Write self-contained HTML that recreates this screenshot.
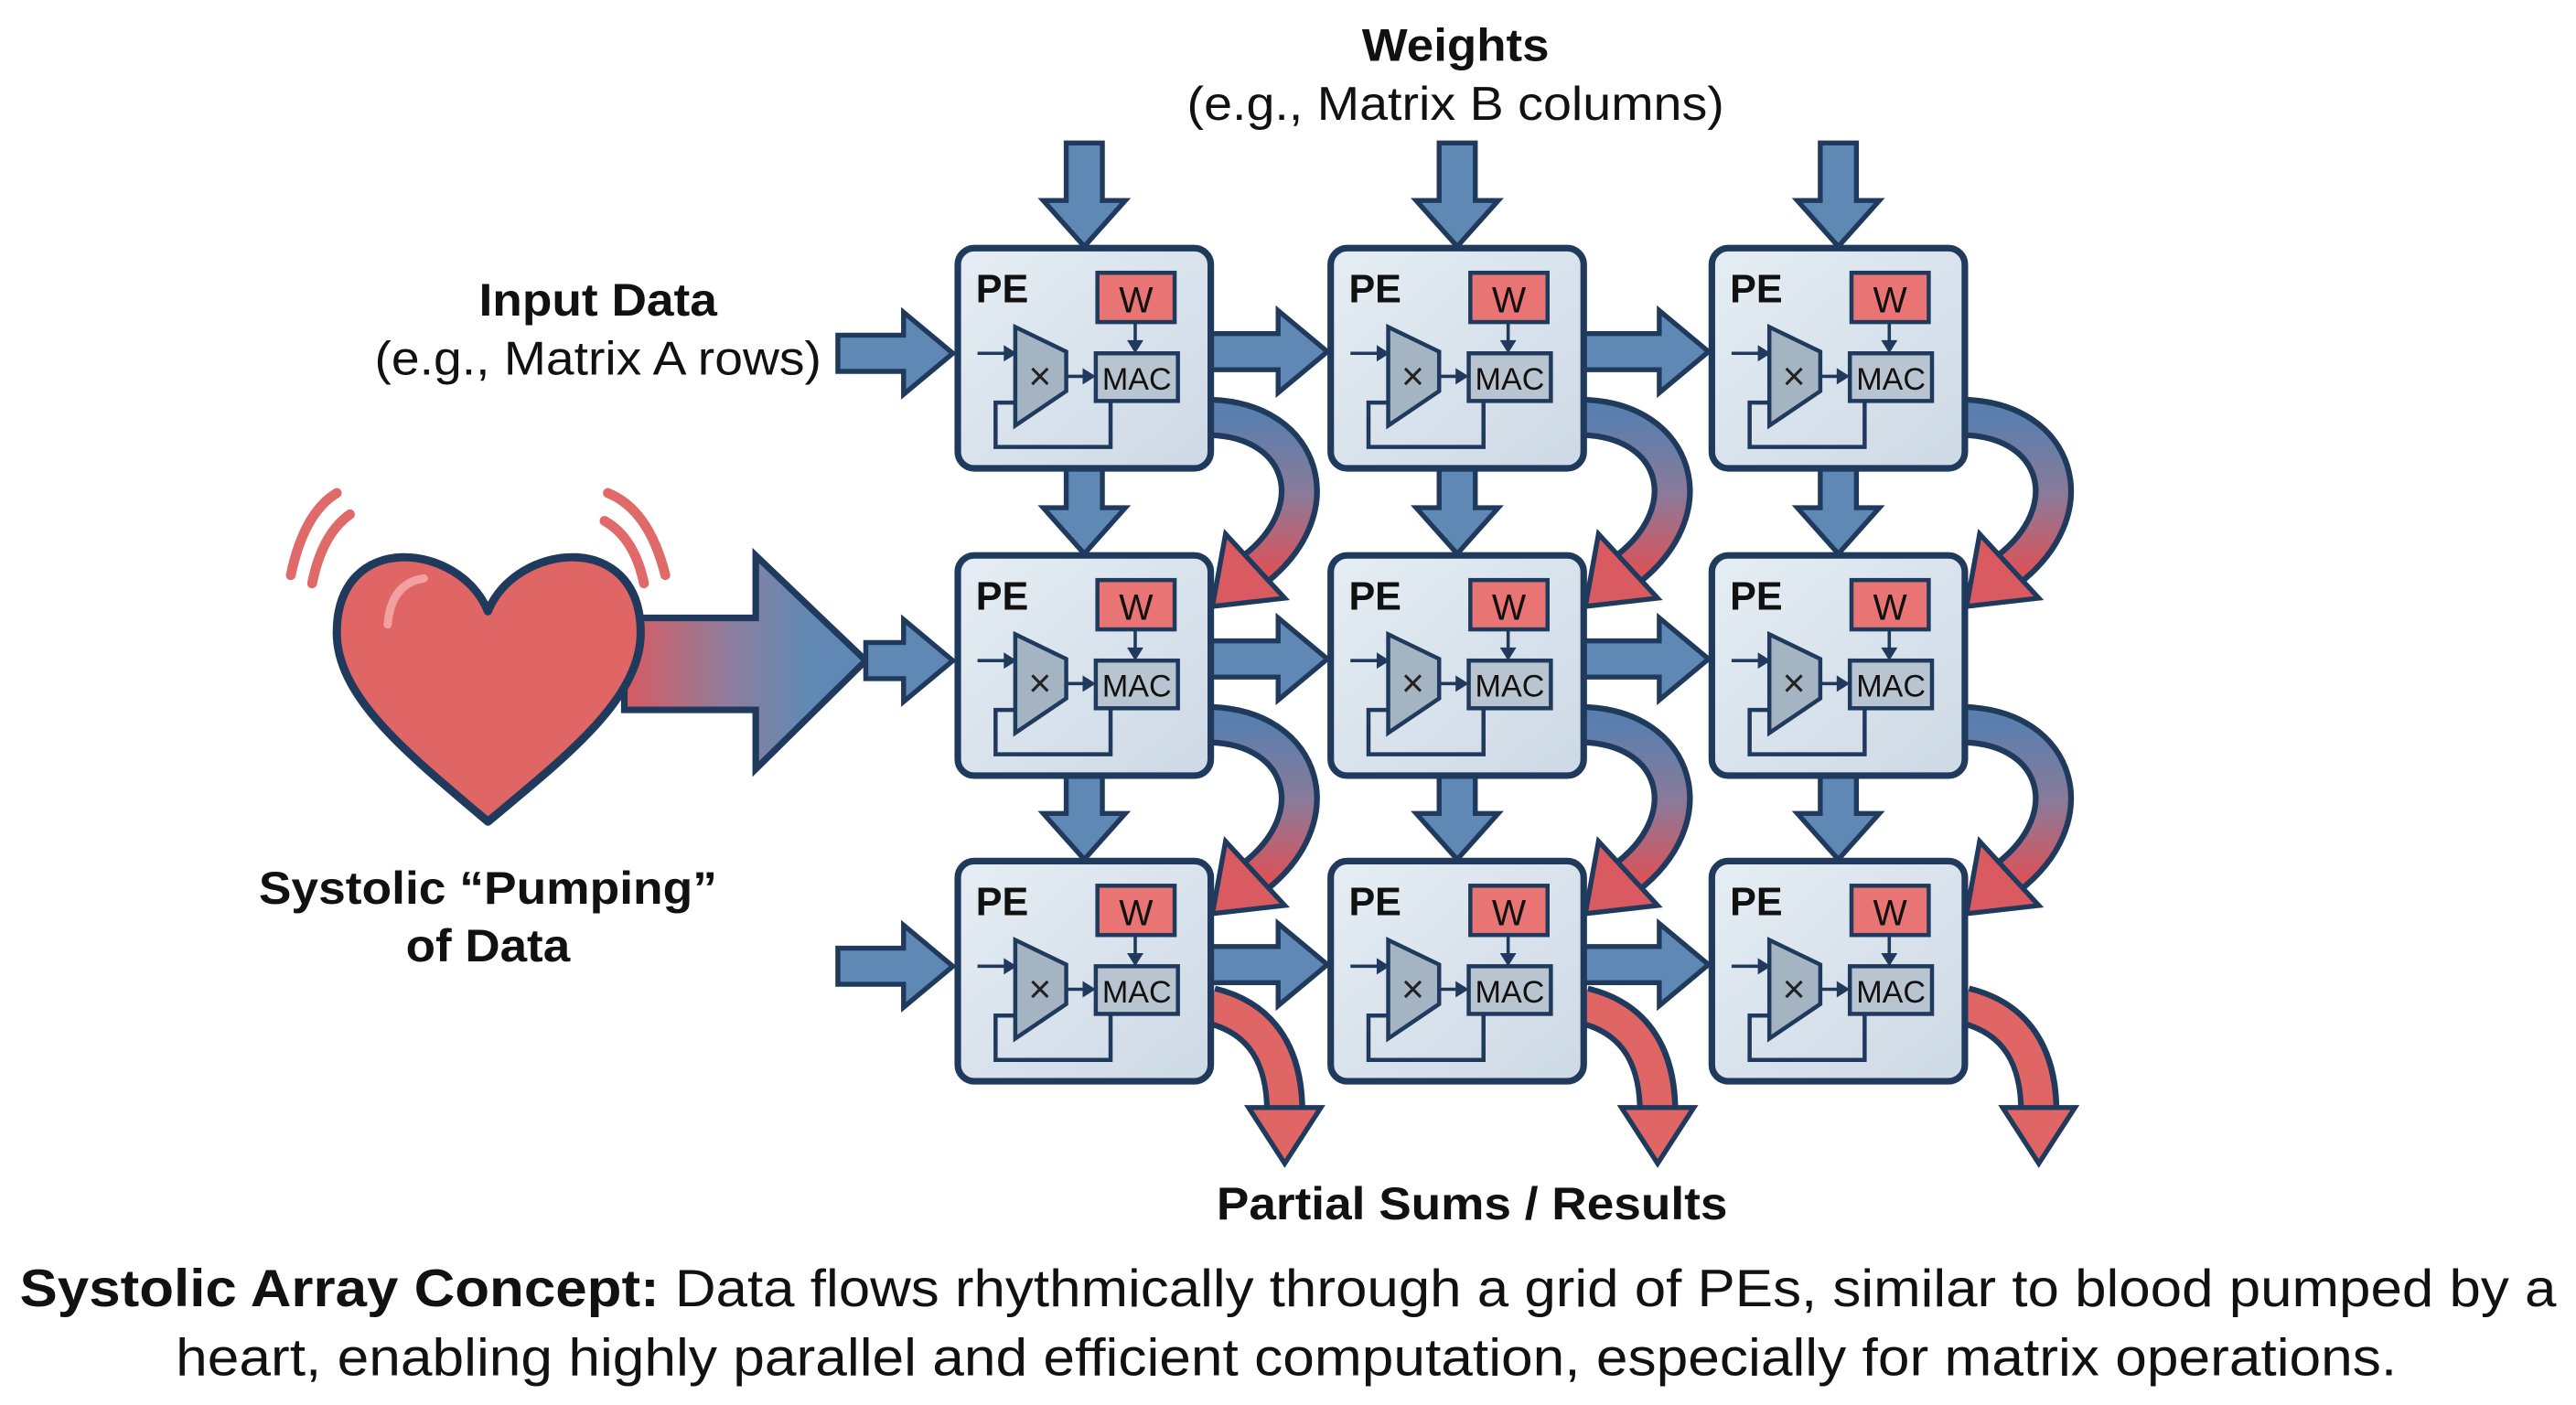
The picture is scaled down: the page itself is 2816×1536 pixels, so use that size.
<!DOCTYPE html>
<html><head><meta charset="utf-8"><style>
html,body{margin:0;padding:0;background:#fff;}
svg{display:block;}
text{font-family:"Liberation Sans",Arial,sans-serif;}
</style></head><body>
<svg id="s" width="2816" height="1536" viewBox="0 0 1568 855" preserveAspectRatio="none" xmlns="http://www.w3.org/2000/svg">
<defs>
<linearGradient id="gv" x1="0" y1="0" x2="0" y2="1">
<stop offset="0" stop-color="#5a7fae"/><stop offset="0.5" stop-color="#8a7a9a"/><stop offset="1" stop-color="#d9545a"/>
</linearGradient>
<linearGradient id="gh" x1="0" y1="0" x2="1" y2="0">
<stop offset="0" stop-color="#d95a60"/><stop offset="0.45" stop-color="#8c7f9f"/><stop offset="0.75" stop-color="#6288b4"/><stop offset="1" stop-color="#5f88b5"/>
</linearGradient>
<linearGradient id="pe" x1="0" y1="0" x2="1" y2="1">
<stop offset="0" stop-color="#e6edf4"/><stop offset="1" stop-color="#cdd9e5"/>
</linearGradient>
</defs>
<g id="g"></g>
<text x="886" y="37" font-size="28" font-weight="bold" text-anchor="middle" fill="#111" textLength="114" lengthAdjust="spacingAndGlyphs">Weights</text>
<text x="886" y="73" font-size="29" text-anchor="middle" fill="#111" textLength="327" lengthAdjust="spacingAndGlyphs">(e.g., Matrix B columns)</text>
<text x="364" y="192" font-size="28" font-weight="bold" text-anchor="middle" fill="#111" textLength="145" lengthAdjust="spacingAndGlyphs">Input Data</text>
<text x="364" y="228" font-size="29" text-anchor="middle" fill="#111" textLength="272" lengthAdjust="spacingAndGlyphs">(e.g., Matrix A rows)</text>
<text x="297" y="550" font-size="28" font-weight="bold" text-anchor="middle" fill="#111" textLength="279" lengthAdjust="spacingAndGlyphs">Systolic “Pumping”</text>
<text x="297" y="585" font-size="28" font-weight="bold" text-anchor="middle" fill="#111" textLength="100" lengthAdjust="spacingAndGlyphs">of Data</text>
<text x="896" y="742" font-size="28" font-weight="bold" text-anchor="middle" fill="#111" textLength="311" lengthAdjust="spacingAndGlyphs">Partial Sums / Results</text>
<text x="784" y="795" font-size="32" text-anchor="middle" fill="#111" textLength="1544" lengthAdjust="spacingAndGlyphs"><tspan font-weight="bold">Systolic Array Concept:</tspan> Data flows rhythmically through a grid of PEs, similar to blood pumped by a</text>
<text x="783" y="837" font-size="32" text-anchor="middle" fill="#111" textLength="1352" lengthAdjust="spacingAndGlyphs">heart, enabling highly parallel and efficient computation, especially for matrix operations.</text>
</svg>
<script>
var h='';
var B='#5f88b5',S='#1f3a5c';
var cols=[583,810,1042],rows=[151,338,524],W=154,H=134;
function harrow(x1,x2,c){h+='<polygon points="'+x1+','+(c-11)+' '+(x2-30)+','+(c-11)+' '+(x2-30)+','+(c-25)+' '+x2+','+c+' '+(x2-30)+','+(c+25)+' '+(x2-30)+','+(c+11)+' '+x1+','+(c+11)+'" fill="'+B+'" stroke="'+S+'" stroke-width="3" stroke-linejoin="miter"/>';}
function varrow(cx,y1,y2){h+='<polygon points="'+(cx-11)+','+y1+' '+(cx+11)+','+y1+' '+(cx+11)+','+(y2-28)+' '+(cx+25)+','+(y2-28)+' '+cx+','+y2+' '+(cx-25)+','+(y2-28)+' '+(cx-11)+','+(y2-28)+'" fill="'+B+'" stroke="'+S+'" stroke-width="3"/>';}
h+='<g fill="none" stroke="#e06a6a" stroke-width="6" stroke-linecap="round">'+
'<path d="M205 300 Q185 312 177 350"/><path d="M213 313 Q196 325 190 355"/>'+
'<path d="M370 300 Q395 310 405 350"/><path d="M368 317 Q386 327 392 355"/></g>';
h+='<polygon points="380,376 460,376 460,338 527,402 460,468 460,432 380,432" fill="url(#gh)" stroke="'+S+'" stroke-width="4"/>';
h+='<path d="M297 372 C280 330 205 322 205 385 C205 425 250 460 297 500 C345 460 390 425 390 385 C390 322 314 330 297 372 Z" fill="#e06565" stroke="'+S+'" stroke-width="5" stroke-linejoin="round"/>';
h+='<path d="M236 380 Q238 355 258 352" fill="none" stroke="#f2a0a0" stroke-width="5" stroke-linecap="round"/>';
harrow(510,580,215);harrow(527,580,402);harrow(510,580,588);
cols.forEach(function(x){varrow(x+77,87,150);});
rows.forEach(function(y,r){
 cols.forEach(function(x,c){
  if(c<2)harrow(x+W,cols[c+1]-2,y+63);
  if(r<2)varrow(x+77,y+H,rows[r+1]-1);
  if(r<2){
   var y0=y;
   h+='<path d="M737 '+(y0+103)+' C795 '+(y0+105)+' 810 '+(y0+160)+' 763 '+(y0+196)+'" transform="translate('+(x-583)+',0)" fill="none" stroke="'+S+'" stroke-width="25"/>';
   h+='<path d="M737 '+(y0+103)+' C795 '+(y0+105)+' 810 '+(y0+160)+' 763 '+(y0+196)+'" transform="translate('+(x-583)+',0)" fill="none" stroke="url(#gv)" stroke-width="18"/>';
   h+='<polygon transform="translate('+(x-583)+',0)" points="738,'+(y0+218)+' 782,'+(y0+213)+' 746,'+(y0+174)+'" fill="#d95a60" stroke="'+S+'" stroke-width="3" stroke-linejoin="miter"/>';
  } else {
   var dx=x-583;
   h+='<path transform="translate('+dx+',0)" d="M737 612 C770 620 782 645 782 676" fill="none" stroke="'+S+'" stroke-width="25"/>';
   h+='<path transform="translate('+dx+',0)" d="M737 612 C770 620 782 645 782 678" fill="none" stroke="#e06565" stroke-width="18"/>';
   h+='<polygon transform="translate('+dx+',0)" points="760,674 804,674 782,708" fill="#e06565" stroke="'+S+'" stroke-width="3"/>';
  }
 });
});
rows.forEach(function(y){cols.forEach(function(x){
 h+='<g transform="translate('+x+','+y+')">'+
 '<rect x="0" y="0" width="'+W+'" height="'+H+'" rx="10" fill="url(#pe)" stroke="'+S+'" stroke-width="4"/>'+
 '<text x="11" y="33" font-size="24" font-weight="bold" fill="#111">PE</text>'+
 '<rect x="85" y="15" width="47" height="30" fill="#e87474" stroke="'+S+'" stroke-width="2.5"/>'+
 '<text x="108.5" y="39" font-size="22" text-anchor="middle" fill="#111">W</text>'+
 '<line x1="108" y1="45" x2="108" y2="58" stroke="'+S+'" stroke-width="2"/><polygon points="103,56 113,56 108,64" fill="'+S+'"/>'+
 '<rect x="84" y="64" width="50" height="29" fill="#b8c5d1" stroke="'+S+'" stroke-width="2.5"/>'+
 '<text x="109" y="86" font-size="19" text-anchor="middle" fill="#111">MAC</text>'+
 '<polygon points="35,48 66,63 66,87 35,108" fill="#a5b4c3" stroke="'+S+'" stroke-width="2.5"/>'+
 '<text x="50" y="86" font-size="24" text-anchor="middle" fill="#222">×</text>'+
 '<line x1="12" y1="64" x2="29" y2="64" stroke="'+S+'" stroke-width="2"/><polygon points="28,59 36,64 28,69" fill="'+S+'"/>'+
 '<line x1="66" y1="78" x2="77" y2="78" stroke="'+S+'" stroke-width="2"/><polygon points="76,73 84,78 76,83" fill="'+S+'"/>'+
 '<polyline points="35,94 23,94 23,121 93,121 93,93" fill="none" stroke="'+S+'" stroke-width="2.5"/>'+
 '</g>';
});});
document.getElementById('g').innerHTML=h;
</script>
</body></html>
